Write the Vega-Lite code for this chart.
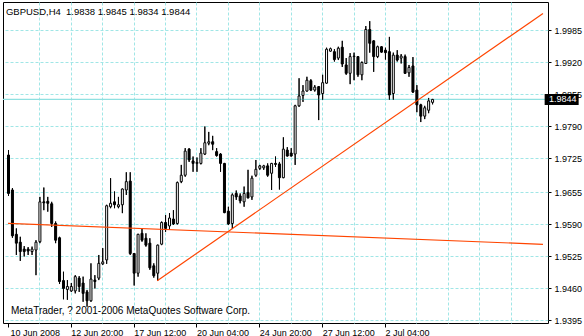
{
  "$schema": "https://vega.github.io/schema/vega-lite/v6.json",
  "width": 545,
  "height": 321,
  "autosize": "none",
  "padding": {"left": 3, "top": 2, "right": 36, "bottom": 13},
  "background": "white",
  "view": {"stroke": "black", "strokeWidth": 1, "fill": "white"},
  "config": {"view": {"stroke": "black", "strokeWidth": 1}, "font": "Liberation Sans",
    "axis": {"labelOverlap": false, "labelFlush": false, "labelBound": false}},
  "title": {"text": "GBPUSD,H4\u00a0\u00a01.9838 1.9845 1.9834 1.9844", "anchor": "start", "offset": -14, "dx": 3.5, "fontSize": 9.5, "font": "Liberation Sans", "fontWeight": "normal", "color": "black"},
  "datasets": {
    "bars": [
      {"i":0,"o":1.9731,"h":1.9741,"l":1.9648,"c":1.9653},
      {"i":1,"o":1.9660,"h":1.9664,"l":1.9563,"c":1.9567},
      {"i":2,"o":1.9570,"h":1.9582,"l":1.9528,"c":1.9552},
      {"i":3,"o":1.9554,"h":1.9565,"l":1.9516,"c":1.9535},
      {"i":4,"o":1.9540,"h":1.9546,"l":1.9525,"c":1.9535},
      {"i":5,"o":1.9540,"h":1.9544,"l":1.9528,"c":1.9536},
      {"i":6,"o":1.9535,"h":1.9545,"l":1.9528,"c":1.9540},
      {"i":7,"o":1.9538,"h":1.9558,"l":1.9487,"c":1.9554},
      {"i":8,"o":1.9555,"h":1.9646,"l":1.9552,"c":1.9636},
      {"i":9,"o":1.9636,"h":1.9665,"l":1.9619,"c":1.9634},
      {"i":10,"o":1.9637,"h":1.9646,"l":1.9616,"c":1.9633},
      {"i":11,"o":1.9632,"h":1.9636,"l":1.9585,"c":1.9592},
      {"i":12,"o":1.9592,"h":1.9596,"l":1.9552,"c":1.9558},
      {"i":13,"o":1.9563,"h":1.9565,"l":1.9469,"c":1.9474},
      {"i":14,"o":1.9476,"h":1.9494,"l":1.9438,"c":1.9460},
      {"i":15,"o":1.9458,"h":1.9477,"l":1.9437,"c":1.9464},
      {"i":16,"o":1.9455,"h":1.9471,"l":1.9453,"c":1.9464},
      {"i":17,"o":1.9455,"h":1.9487,"l":1.9450,"c":1.9484},
      {"i":18,"o":1.9481,"h":1.9485,"l":1.9453,"c":1.9464},
      {"i":19,"o":1.9471,"h":1.9484,"l":1.9433,"c":1.9450},
      {"i":20,"o":1.9453,"h":1.9457,"l":1.9423,"c":1.9435},
      {"i":21,"o":1.9435,"h":1.9511,"l":1.9433,"c":1.9479},
      {"i":22,"o":1.9477,"h":1.9487,"l":1.9460,"c":1.9474},
      {"i":23,"o":1.9481,"h":1.9528,"l":1.9477,"c":1.9511},
      {"i":24,"o":1.9510,"h":1.9542,"l":1.9508,"c":1.9514},
      {"i":25,"o":1.9518,"h":1.9630,"l":1.9510,"c":1.9628},
      {"i":26,"o":1.9626,"h":1.9684,"l":1.9623,"c":1.9633},
      {"i":27,"o":1.9636,"h":1.9657,"l":1.9623,"c":1.9630},
      {"i":28,"o":1.9626,"h":1.9646,"l":1.9623,"c":1.9630},
      {"i":29,"o":1.9630,"h":1.9663,"l":1.9613,"c":1.9662},
      {"i":30,"o":1.9660,"h":1.9696,"l":1.9650,"c":1.9677},
      {"i":31,"o":1.9678,"h":1.9696,"l":1.9528,"c":1.9531},
      {"i":32,"o":1.9531,"h":1.9532,"l":1.9466,"c":1.9491},
      {"i":33,"o":1.9491,"h":1.9571,"l":1.9484,"c":1.9570},
      {"i":34,"o":1.9572,"h":1.9582,"l":1.9555,"c":1.9558},
      {"i":35,"o":1.9562,"h":1.9572,"l":1.9545,"c":1.9548},
      {"i":36,"o":1.9552,"h":1.9562,"l":1.9498,"c":1.9502},
      {"i":37,"o":1.9506,"h":1.9511,"l":1.9482,"c":1.9486},
      {"i":38,"o":1.9491,"h":1.9549,"l":1.9476,"c":1.9548},
      {"i":39,"o":1.9550,"h":1.9596,"l":1.9548,"c":1.9594},
      {"i":40,"o":1.9594,"h":1.9609,"l":1.9575,"c":1.9582},
      {"i":41,"o":1.9587,"h":1.9613,"l":1.9579,"c":1.9603},
      {"i":42,"o":1.9601,"h":1.9619,"l":1.9589,"c":1.9591},
      {"i":43,"o":1.9592,"h":1.9677,"l":1.9590,"c":1.9675},
      {"i":44,"o":1.9677,"h":1.9711,"l":1.9674,"c":1.9690},
      {"i":45,"o":1.9690,"h":1.9745,"l":1.9687,"c":1.9739},
      {"i":46,"o":1.9743,"h":1.9745,"l":1.9717,"c":1.9721},
      {"i":47,"o":1.9719,"h":1.9728,"l":1.9697,"c":1.9714},
      {"i":48,"o":1.9714,"h":1.9726,"l":1.9697,"c":1.9716},
      {"i":49,"o":1.9714,"h":1.9745,"l":1.9712,"c":1.9735},
      {"i":50,"o":1.9733,"h":1.9789,"l":1.9731,"c":1.9756},
      {"i":51,"o":1.9755,"h":1.9778,"l":1.9751,"c":1.9758},
      {"i":52,"o":1.9758,"h":1.9770,"l":1.9741,"c":1.9753},
      {"i":53,"o":1.9738,"h":1.9745,"l":1.9728,"c":1.9730},
      {"i":54,"o":1.9733,"h":1.9735,"l":1.9697,"c":1.9714},
      {"i":55,"o":1.9714,"h":1.9715,"l":1.9613,"c":1.9614},
      {"i":56,"o":1.9617,"h":1.9626,"l":1.9589,"c":1.9591},
      {"i":57,"o":1.9592,"h":1.9653,"l":1.9581,"c":1.9650},
      {"i":58,"o":1.9653,"h":1.9659,"l":1.9640,"c":1.9646},
      {"i":59,"o":1.9648,"h":1.9653,"l":1.9633,"c":1.9638},
      {"i":60,"o":1.9636,"h":1.9667,"l":1.9626,"c":1.9653},
      {"i":61,"o":1.9655,"h":1.9701,"l":1.9643,"c":1.9644},
      {"i":62,"o":1.9646,"h":1.9689,"l":1.9640,"c":1.9684},
      {"i":63,"o":1.9690,"h":1.9721,"l":1.9687,"c":1.9702},
      {"i":64,"o":1.9704,"h":1.9711,"l":1.9701,"c":1.9709},
      {"i":65,"o":1.9705,"h":1.9711,"l":1.9701,"c":1.9709},
      {"i":66,"o":1.9709,"h":1.9714,"l":1.9687,"c":1.9690},
      {"i":67,"o":1.9694,"h":1.9715,"l":1.9660,"c":1.9714},
      {"i":68,"o":1.9714,"h":1.9728,"l":1.9707,"c":1.9712},
      {"i":69,"o":1.9713,"h":1.9717,"l":1.9661,"c":1.9685},
      {"i":70,"o":1.9685,"h":1.9767,"l":1.9684,"c":1.9743},
      {"i":71,"o":1.9741,"h":1.9747,"l":1.9728,"c":1.9729},
      {"i":72,"o":1.9735,"h":1.9745,"l":1.9728,"c":1.9729},
      {"i":73,"o":1.9733,"h":1.9833,"l":1.9711,"c":1.9831},
      {"i":74,"o":1.9831,"h":1.9887,"l":1.9829,"c":1.9851},
      {"i":75,"o":1.9852,"h":1.9873,"l":1.9839,"c":1.9861},
      {"i":76,"o":1.9861,"h":1.9890,"l":1.9860,"c":1.9883},
      {"i":77,"o":1.9882,"h":1.9885,"l":1.9861,"c":1.9863},
      {"i":78,"o":1.9863,"h":1.9873,"l":1.9860,"c":1.9869},
      {"i":79,"o":1.9870,"h":1.9871,"l":1.9802,"c":1.9853},
      {"i":80,"o":1.9856,"h":1.9894,"l":1.9843,"c":1.9878},
      {"i":81,"o":1.9877,"h":1.9949,"l":1.9876,"c":1.9946},
      {"i":82,"o":1.9942,"h":1.9949,"l":1.9941,"c":1.9947},
      {"i":83,"o":1.9941,"h":1.9946,"l":1.9921,"c":1.9925},
      {"i":84,"o":1.9928,"h":1.9951,"l":1.9924,"c":1.9948},
      {"i":85,"o":1.9950,"h":1.9963,"l":1.9910,"c":1.9916},
      {"i":86,"o":1.9914,"h":1.9928,"l":1.9894,"c":1.9897},
      {"i":87,"o":1.9897,"h":1.9938,"l":1.9875,"c":1.9931},
      {"i":88,"o":1.9931,"h":1.9939,"l":1.9883,"c":1.9932},
      {"i":89,"o":1.9931,"h":1.9932,"l":1.9890,"c":1.9894},
      {"i":90,"o":1.9894,"h":1.9921,"l":1.9883,"c":1.9919},
      {"i":91,"o":1.9917,"h":1.9993,"l":1.9916,"c":1.9986},
      {"i":92,"o":1.9986,"h":2.0003,"l":1.9939,"c":1.9958},
      {"i":93,"o":1.9963,"h":1.9964,"l":1.9900,"c":1.9931},
      {"i":94,"o":1.9931,"h":1.9953,"l":1.9928,"c":1.9951},
      {"i":95,"o":1.9951,"h":1.9952,"l":1.9939,"c":1.9940},
      {"i":96,"o":1.9944,"h":1.9949,"l":1.9925,"c":1.9939},
      {"i":97,"o":1.9941,"h":1.9971,"l":1.9843,"c":1.9853},
      {"i":98,"o":1.9856,"h":1.9939,"l":1.9843,"c":1.9934},
      {"i":99,"o":1.9934,"h":1.9944,"l":1.9921,"c":1.9924},
      {"i":100,"o":1.9928,"h":1.9936,"l":1.9917,"c":1.9932},
      {"i":101,"o":1.9931,"h":1.9935,"l":1.9896,"c":1.9897},
      {"i":102,"o":1.9898,"h":1.9914,"l":1.9890,"c":1.9909},
      {"i":103,"o":1.9912,"h":1.9930,"l":1.9857,"c":1.9859},
      {"i":104,"o":1.9863,"h":1.9873,"l":1.9818,"c":1.9833},
      {"i":105,"o":1.9833,"h":1.9835,"l":1.9798,"c":1.9810},
      {"i":106,"o":1.9810,"h":1.9831,"l":1.9804,"c":1.9827},
      {"i":107,"o":1.9822,"h":1.9847,"l":1.9816,"c":1.9841},
      {"i":108,"o":1.9838,"h":1.9845,"l":1.9834,"c":1.9844}
    ],
    "lines": [
      {"id":"a","i":0,"p":1.95924},
      {"id":"a","i":136.25,"p":1.95497},
      {"id":"b","i":38,"p":1.94758},
      {"id":"b","i":136.25,"p":2.00187}
    ]
  },
  "layer": [
    {
      "data": {"name": "bars"},
      "mark": {"type": "rule", "color": "black", "strokeWidth": 1, "xOffset": 0.5},
      "encoding": {
        "x": {"field": "i", "type": "quantitative", "title": null, "scale": {"domain": [0, 136.25], "nice": false, "zero": false},
          "axis": {"orient": "bottom", "values": [0,8,16,24,32,40,48,56,64,72,80,88,96,104,112,120,128], "tickCount": 40,
            "grid": true, "gridColor": "#a0e6e6", "gridDash": [3,2],
            "gridOpacity": {"condition": {"test": "datum.value == 0", "value": 0}, "value": 1},
            "domain": false, "ticks": true, "tickSize": 4, "tickColor": "black",
            "tickOpacity": {"condition": {"test": "datum.value % 16 == 0 && datum.value <= 96", "value": 1}, "value": 0},
            "labelExpr": "datum.value == 0 ? '10 Jun 2008' : datum.value == 16 ? '12 Jun 20:00' : datum.value == 32 ? '17 Jun 12:00' : datum.value == 48 ? '20 Jun 04:00' : datum.value == 64 ? '24 Jun 20:00' : datum.value == 80 ? '27 Jun 12:00' : datum.value == 96 ? '2 Jul 04:00' : ''",
            "labelOffset": {"condition": {"test": "datum.value == 0", "value": 2}, "value": 0},
            "labelAlign": "left", "labelBaseline": "top", "labelPadding": 1,
            "labelFont": "Liberation Sans", "labelFontSize": 9, "labelColor": "black",
            "labelOverlap": false, "labelFlush": false, "labelBound": false, "title": null}},
        "y": {"field": "l", "type": "quantitative", "title": null, "scale": {"domain": [1.938984, 2.004188], "nice": false, "zero": false},
          "axis": {"orient": "right", "values": [1.9395,1.946,1.9525,1.959,1.9655,1.9725,1.979,1.9855,1.992,1.9985], "tickCount": 40,
            "format": ".4f", "grid": true, "gridColor": "#a0e6e6", "gridDash": [3,2],
            "domain": false, "tickSize": 3, "tickColor": "black",
            "labelAlign": "left", "labelBaseline": "middle", "labelPadding": 3,
            "labelFont": "Liberation Sans", "labelFontSize": 9, "labelColor": "black",
            "labelOverlap": false, "labelFlush": false, "labelBound": false, "title": null}},
        "y2": {"field": "h"}
      }
    },
    {
      "data": {"name": "bars"},
      "transform": [{"filter": "datum.i == 108"}],
      "mark": {"type": "rule", "stroke": "#8fe0e0", "color": "#8fe0e0", "strokeWidth": 1.2, "opacity": 1},
      "encoding": {
        "y": {"field": "c", "type": "quantitative", "title": null}
      }
    },
    {
      "data": {"name": "bars"},
      "mark": {"type": "rule", "color": "black", "strokeWidth": 1, "xOffset": 0.5},
      "encoding": {
        "x": {"field": "i", "type": "quantitative", "title": null},
        "y": {"field": "l", "type": "quantitative", "title": null},
        "y2": {"field": "h"}
      }
    },
    {
      "data": {"name": "bars"},
      "mark": {"type": "bar", "size": 2, "stroke": "black", "strokeWidth": 1, "xOffset": 0.5},
      "encoding": {
        "x": {"field": "i", "type": "quantitative", "title": null},
        "y": {"field": "o", "type": "quantitative", "title": null},
        "y2": {"field": "c"},
        "fill": {"condition": {"test": "datum.c >= datum.o", "value": "white"}, "value": "black"}
      }
    },
    {
      "data": {"name": "lines"},
      "mark": {"type": "line", "color": "#ff4500", "strokeWidth": 1.2},
      "encoding": {
        "x": {"field": "i", "type": "quantitative", "title": null},
        "y": {"field": "p", "type": "quantitative", "title": null},
        "detail": {"field": "id"}
      }
    },
    {
      "data": {"values": [{"label": "MetaTrader, ? 2001-2006 MetaQuotes Software Corp."}]},
      "mark": {"type": "text", "align": "left", "baseline": "alphabetic", "fontSize": 10, "font": "Liberation Sans", "color": "black"},
      "encoding": {
        "x": {"datum": 0.75, "type": "quantitative"},
        "y": {"datum": 1.9408, "type": "quantitative"},
        "text": {"field": "label"}
      }
    },
    {
      "data": {"name": "bars"},
      "transform": [{"filter": "datum.i == 108"}],
      "mark": {"type": "tick", "orient": "horizontal", "size": 34, "thickness": 11, "color": "black", "opacity": 1},
      "encoding": {
        "x": {"datum": 141, "type": "quantitative"},
        "y": {"field": "c", "type": "quantitative", "title": null}
      }
    },
    {
      "data": {"name": "bars"},
      "transform": [{"filter": "datum.i == 108"}],
      "mark": {"type": "text", "align": "left", "baseline": "middle", "fontSize": 9, "font": "Liberation Sans", "color": "white"},
      "encoding": {
        "x": {"datum": 137.75, "type": "quantitative"},
        "y": {"field": "c", "type": "quantitative", "title": null},
        "text": {"field": "c", "type": "quantitative", "format": ".4f"}
      }
    }
  ]
}
